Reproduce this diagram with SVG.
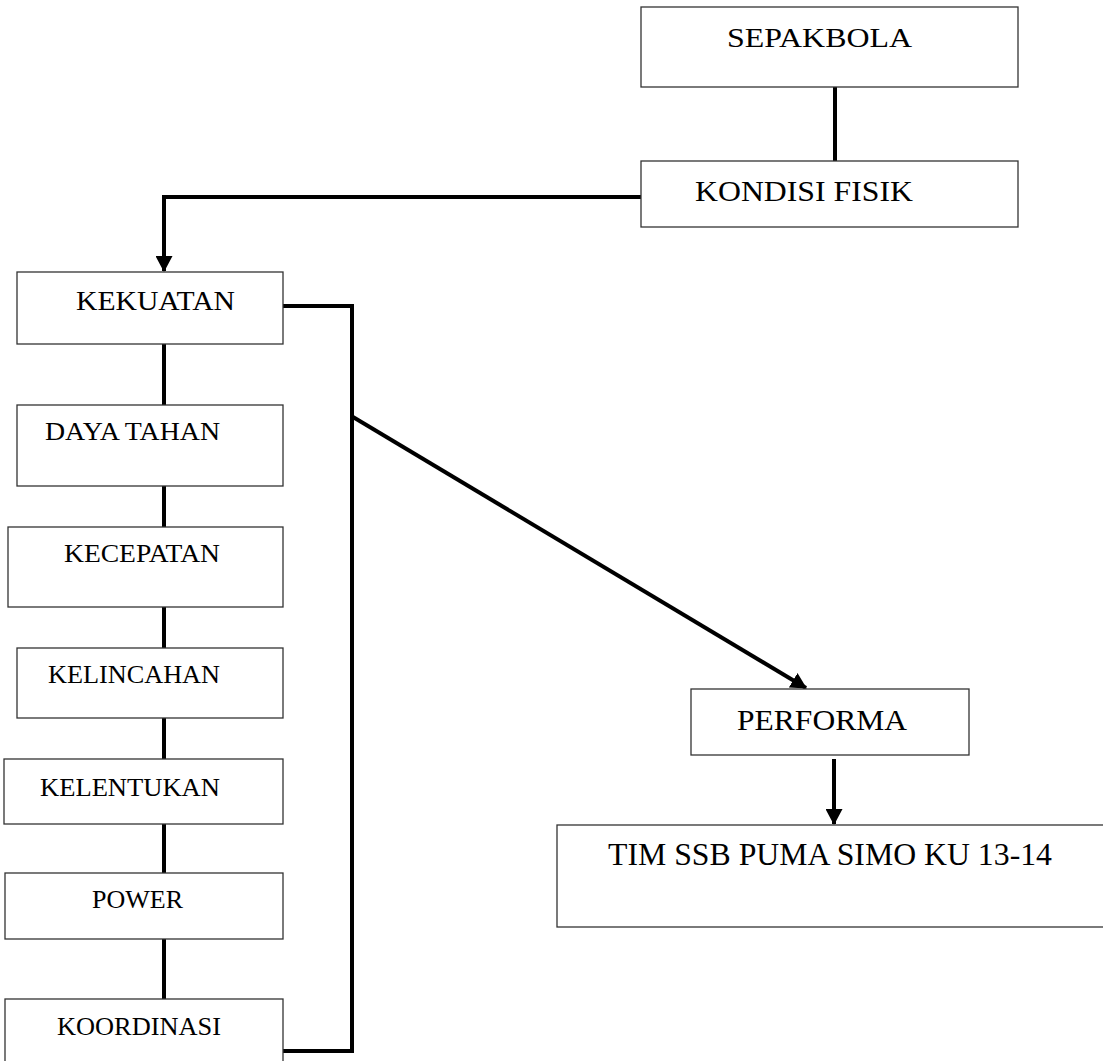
<svg xmlns="http://www.w3.org/2000/svg" width="1103" height="1061" viewBox="0 0 1103 1061">
<style>
.box{fill:#fff;stroke:#333;stroke-width:1.3}
.t{font-family:"Liberation Serif","Times New Roman",serif;fill:#000}
.c{fill:none;stroke:#000;stroke-width:4}
</style>
<defs>
<marker id="ah" markerUnits="userSpaceOnUse" markerWidth="17" markerHeight="17" refX="15" refY="8.5" orient="auto">
<path d="M0,0 L16,8.5 L0,17 z" fill="#000"/>
</marker>
</defs>
<rect width="1103" height="1061" fill="#fff"/>
<g id="connectors">
<line class="c" x1="835" y1="87" x2="835" y2="161"/>
<polyline class="c" points="641,197 164,197 164,271" marker-end="url(#ah)"/>
<polyline class="c" points="283,306 352,306 352,1051 283,1051"/>
<line class="c" x1="353" y1="417" x2="806" y2="688" marker-end="url(#ah)"/>
<line class="c" x1="834" y1="759" x2="834" y2="824" marker-end="url(#ah)"/>
<line class="c" x1="164" y1="344" x2="164" y2="405"/>
<line class="c" x1="164" y1="486" x2="164" y2="527"/>
<line class="c" x1="164" y1="607" x2="164" y2="648"/>
<line class="c" x1="164" y1="718" x2="164" y2="759"/>
<line class="c" x1="164" y1="824" x2="164" y2="873"/>
<line class="c" x1="164" y1="939" x2="164" y2="999"/>
</g>
<g id="sepakbola"><rect class="box" x="641" y="7" width="377" height="80"/><text class="t" font-size="28" x="727" y="47" textLength="185" lengthAdjust="spacingAndGlyphs">SEPAKBOLA</text></g>
<g id="kondisi-fisik"><rect class="box" x="641" y="161" width="377" height="66"/><text class="t" font-size="29" x="695" y="201" textLength="218" lengthAdjust="spacingAndGlyphs">KONDISI FISIK</text></g>
<g id="kekuatan"><rect class="box" x="17" y="272" width="266" height="72"/><text class="t" font-size="28" x="76" y="310" textLength="159" lengthAdjust="spacingAndGlyphs">KEKUATAN</text></g>
<g id="daya-tahan"><rect class="box" x="17" y="405" width="266" height="81"/><text class="t" font-size="25" x="45" y="440" textLength="175" lengthAdjust="spacingAndGlyphs">DAYA TAHAN</text></g>
<g id="kecepatan"><rect class="box" x="8" y="527" width="275" height="80"/><text class="t" font-size="25" x="64" y="562" textLength="156" lengthAdjust="spacingAndGlyphs">KECEPATAN</text></g>
<g id="kelincahan"><rect class="box" x="17" y="648" width="266" height="70"/><text class="t" font-size="25" x="48" y="683" textLength="172" lengthAdjust="spacingAndGlyphs">KELINCAHAN</text></g>
<g id="kelentukan"><rect class="box" x="4" y="759" width="279" height="65"/><text class="t" font-size="25" x="40" y="796" textLength="180" lengthAdjust="spacingAndGlyphs">KELENTUKAN</text></g>
<g id="power"><rect class="box" x="5" y="873" width="278" height="66"/><text class="t" font-size="25" x="92" y="908" textLength="91" lengthAdjust="spacingAndGlyphs">POWER</text></g>
<g id="koordinasi"><rect class="box" x="5" y="999" width="278" height="80"/><text class="t" font-size="25" x="57" y="1035" textLength="164" lengthAdjust="spacingAndGlyphs">KOORDINASI</text></g>
<g id="performa"><rect class="box" x="691" y="689" width="278" height="66"/><text class="t" font-size="30" x="737" y="730" textLength="170" lengthAdjust="spacingAndGlyphs">PERFORMA</text></g>
<g id="tim"><rect class="box" x="557" y="825" width="560" height="102"/><text class="t" font-size="31" x="608" y="865" textLength="444" lengthAdjust="spacingAndGlyphs">TIM SSB PUMA SIMO KU 13-14</text></g>
</svg>
